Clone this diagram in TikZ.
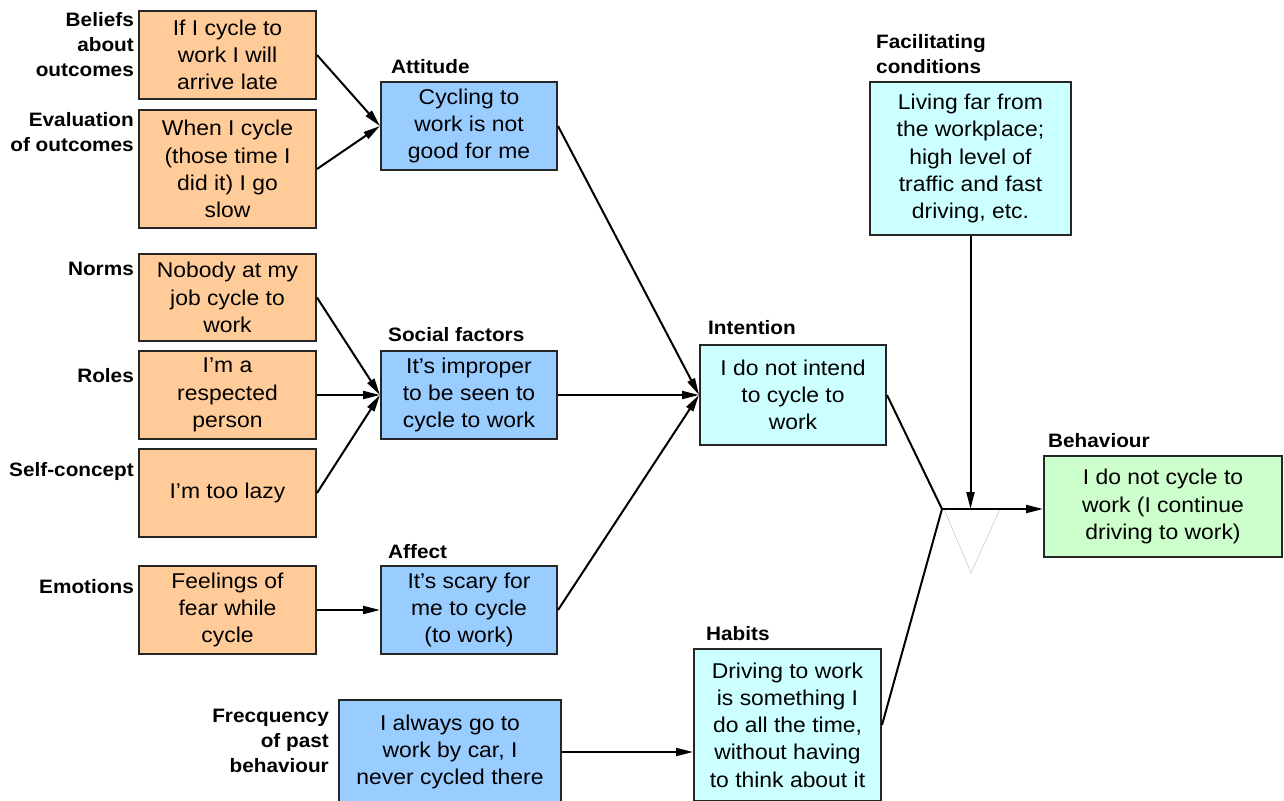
\documentclass[tikz,border=0pt]{standalone}
\usepackage{fontspec}
\setmainfont{Liberation Sans}[FakeStretch=1.07]
\usetikzlibrary{arrows.meta}
\definecolor{peach}{HTML}{FFCC99}
\definecolor{sky}{HTML}{99CCFF}
\definecolor{aqua}{HTML}{CCFFFF}
\definecolor{mint}{HTML}{CCFFCC}
\begin{document}
\begin{tikzpicture}[x=1pt,y=-1pt,
  box/.style={draw=black!85, line width=2pt, align=center, inner sep=0pt,
    font=\fontsize{21.4}{27.2}\selectfont},
  lbl/.style={font=\bfseries\fontsize{19.4}{25}\selectfont, inner sep=0pt},
  arr/.style={line width=2pt, -{Triangle[length=17pt,width=8pt]}},
  ln/.style={line width=2pt}]
\useasboundingbox (0,0) rectangle (1284,800);
\begin{scope}
\clip (0,0) rectangle (1284,800);

% determinants (left column)
\node[box, fill=peach, minimum width=177pt, minimum height=88pt] (bel) at (227.5,55) {If I cycle to\\work I will\\arrive late};
\node[box, fill=peach, minimum width=177pt, minimum height=118pt] (eva) at (227.5,169) {When I cycle\\(those time I\\did it) I go\\slow};
\node[box, fill=peach, minimum width=177pt, minimum height=87pt] (nor) at (227.5,297.5) {Nobody at my\\job cycle to\\work};
\node[box, fill=peach, minimum width=177pt, minimum height=88pt] (rol) at (227.5,395) {I'm a\\respected\\person};
\node[box, fill=peach, minimum width=177pt, minimum height=88pt] (sel) at (227.5,493) {I'm too lazy};
\node[box, fill=peach, minimum width=177pt, minimum height=88pt] (emo) at (227.5,610) {Feelings of\\fear while\\cycle};

% intermediate factors
\node[box, fill=sky, minimum width=176pt, minimum height=88pt] (att) at (469,126) {Cycling to\\work is not\\good for me};
\node[box, fill=sky, minimum width=176pt, minimum height=88pt] (soc) at (469,395) {It's improper\\to be seen to\\cycle to work};
\node[box, fill=sky, minimum width=176pt, minimum height=88pt] (aff) at (469,610) {It's scary for\\me to cycle\\(to work)};
\node[box, fill=sky, minimum width=222pt, minimum height=104pt] (frq) at (450,752) {I always go to\\work by car, I\\never cycled there};

% intention, habits, conditions, behaviour
\node[box, fill=aqua, minimum width=186pt, minimum height=100pt] (int) at (793,395) {I do not intend\\to cycle to\\work};
\node[box, fill=aqua, minimum width=187pt, minimum height=152pt] (hab) at (787.5,725) {Driving to work\\is something I\\do all the time,\\without having\\to think about it};
\node[box, fill=aqua, minimum width=201pt, minimum height=153pt] (fac) at (970.5,158.5) {Living far from\\the workplace;\\high level of\\traffic and fast\\driving, etc.};
\node[box, fill=mint, minimum width=238pt, minimum height=101pt] (beh) at (1163,506.5) {I do not cycle to\\work (I continue\\driving to work)};

% labels on the left
\node[lbl, align=right, anchor=east] (lbel) at (134,45) {Beliefs\\about\\outcomes};
\node[lbl, align=right, anchor=east] (leva) at (134,132.5) {Evaluation\\of outcomes};
\node[lbl, anchor=base east] (lnor) at (134,275) {Norms};
\node[lbl, anchor=base east] (lrol) at (134,382) {Roles};
\node[lbl, anchor=base east] (lsel) at (134,476) {Self-concept};
\node[lbl, anchor=base east] (lemo) at (134,593) {Emotions};
\node[lbl, align=right, anchor=east] (lfrq) at (329,741) {Frecquency\\of past\\behaviour};

% labels above boxes
\node[lbl, anchor=base west] (latt) at (391,74) {Attitude};
\node[lbl, anchor=base west] (lsoc) at (388,341) {Social factors};
\node[lbl, anchor=base west] (laff) at (388,558) {Affect};
\node[lbl, anchor=base west] (lint) at (708,334) {Intention};
\node[lbl, anchor=base west] (lhab) at (706,640) {Habits};
\node[lbl, align=left, anchor=west] (lfac) at (876,54.5) {Facilitating\\conditions};
\node[lbl, anchor=base west] (lbeh) at (1048,447) {Behaviour};

% connectors
\draw[arr] (bel.east) -- (att.west);
\draw[arr] (eva.east) -- (att.west);
\draw[arr] (nor.east) -- (soc.west);
\draw[arr] (rol.east) -- (soc.west);
\draw[arr] (sel.east) -- (soc.west);
\draw[arr] (emo.east) -- (aff.west);
\draw[arr] (att.east) -- (int.west);
\draw[arr] (soc.east) -- (int.west);
\draw[arr] (aff.east) -- (int.west);
\draw[arr] (frq.east) -- (frq.east -| hab.west);

% junction of intention, habits and conditions
\coordinate (j) at (942,509);
\draw[ln] (int.east) -- (j);
\draw[ln] (hab.east) -- (j);
\draw[gray!40, line width=0.6pt] (944,509) -- (971,573) -- (1000,509);
\draw[arr] (j) -- (j -| beh.west);
\draw[arr] (fac.south) -- (fac.south |- j);
\end{scope}
\end{tikzpicture}
\end{document}
